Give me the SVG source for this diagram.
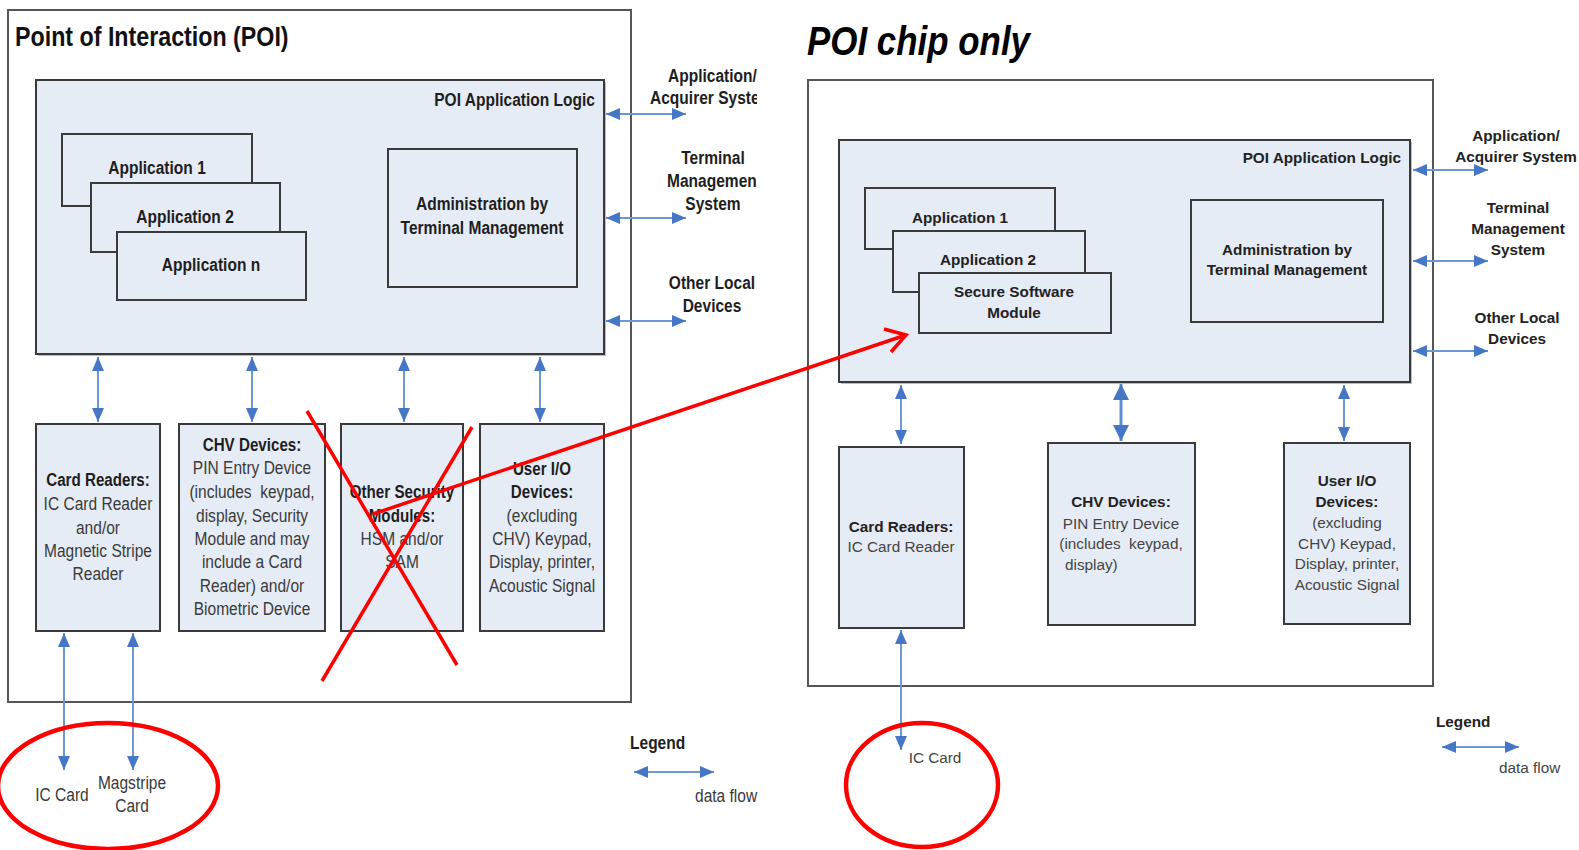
<svg xmlns="http://www.w3.org/2000/svg" width="1579" height="850" viewBox="0 0 1579 850">
  <style>
    .outer { fill: #ffffff; stroke: #555555; stroke-width: 2; }
    .box { fill: #e6ecf6; stroke: #3a3a3a; stroke-width: 2; }
    .shadow { fill: #b9bcc2; }
    .nw { font-family: "Liberation Sans", Arial, sans-serif; font-size: 18.5px; fill: #3a3a3a; }
    .nb { font-family: "Liberation Sans", Arial, sans-serif; font-size: 18.5px; font-weight: bold; fill: #1e1e1e; }
    .rw { font-family: "Liberation Sans", Arial, sans-serif; font-size: 15.3px; fill: #444444; }
    .rb { font-family: "Liberation Sans", Arial, sans-serif; font-size: 15.3px; font-weight: bold; fill: #222222; }
    .c { text-anchor: middle; }
    .e { text-anchor: end; }
    .flow { stroke: #6c98d6; stroke-width: 2; fill: none; marker-start: url(#headS); marker-end: url(#headE); }
    .flowBig { stroke: #5f8ed2; stroke-width: 3; fill: none; marker-start: url(#bigS); marker-end: url(#bigE); }
    .red { stroke: #ff0000; fill: none; stroke-width: 3.5; stroke-linecap: butt; }
  </style>
  <defs>
    <marker id="headE" markerUnits="userSpaceOnUse" viewBox="0 0 14 12" refX="14" refY="6" markerWidth="14" markerHeight="12" orient="auto">
      <path d="M0,0 L14,6 L0,12 Z" fill="#4676c6"/>
    </marker>
    <marker id="headS" markerUnits="userSpaceOnUse" viewBox="0 0 14 12" refX="0" refY="6" markerWidth="14" markerHeight="12" orient="auto">
      <path d="M14,0 L0,6 L14,12 Z" fill="#4676c6"/>
    </marker>
    <marker id="bigE" markerUnits="userSpaceOnUse" viewBox="0 0 16 16" refX="16" refY="8" markerWidth="16" markerHeight="16" orient="auto">
      <path d="M0,0 L16,8 L0,16 Z" fill="#4676c6"/>
    </marker>
    <marker id="bigS" markerUnits="userSpaceOnUse" viewBox="0 0 16 16" refX="0" refY="8" markerWidth="16" markerHeight="16" orient="auto">
      <path d="M16,0 L0,8 L16,16 Z" fill="#4676c6"/>
    </marker>
    <clipPath id="edgeClip" clipPathUnits="userSpaceOnUse">
      <rect x="0" y="0" width="757" height="850"/>
    </clipPath>
  </defs>

  <!-- ===== Left: full POI (condensed lettering via horizontal scale) ===== -->
  <g id="poi-left">
    <rect class="outer" x="8" y="10" width="623" height="692"/>
    <text class="nb" transform="translate(15 46) scale(.83 1)" style="font-size:28px;fill:#111">Point of Interaction (POI)</text>
  </g>

  <g id="app-logic-left">
    <rect class="shadow" x="38" y="82" width="568" height="274"/>
    <rect class="box" x="36" y="80" width="568" height="274"/>
    <text class="nb e" transform="translate(595 106) scale(.84 1)">POI Application Logic</text>
  </g>

  <g id="app1-left">
    <rect class="box" x="62" y="134" width="190" height="72"/>
    <text class="nb c" transform="translate(157 174) scale(.84 1)">Application 1</text>
  </g>
  <g id="app2-left">
    <rect class="box" x="91" y="183" width="189" height="69"/>
    <text class="nb c" transform="translate(185 223) scale(.84 1)">Application 2</text>
  </g>
  <g id="appn-left">
    <rect class="box" x="117" y="232" width="189" height="68"/>
    <text class="nb c" transform="translate(211 271) scale(.84 1)">Application n</text>
  </g>
  <g id="admin-left">
    <rect class="box" x="388" y="149" width="189" height="138"/>
    <text class="nb c" transform="translate(482 210) scale(.84 1)">Administration by</text>
    <text class="nb c" transform="translate(482 234) scale(.84 1)">Terminal Management</text>
  </g>

  <g id="ext-left" clip-path="url(#edgeClip)">
    <text class="nb" transform="translate(668 82) scale(.84 1)">Application/</text>
    <text class="nb" transform="translate(650 104) scale(.84 1)">Acquirer Syste</text>
    <text class="nb c" transform="translate(713 164) scale(.84 1)">Terminal</text>
    <text class="nb" transform="translate(667 187) scale(.84 1)">Managemen</text>
    <text class="nb c" transform="translate(713 210) scale(.84 1)">System</text>
    <text class="nb c" transform="translate(712 289) scale(.84 1)">Other Local</text>
    <text class="nb c" transform="translate(712 312) scale(.84 1)">Devices</text>
  </g>

  <g id="card-readers-left">
    <rect class="box" x="36" y="424" width="124" height="207"/>
    <text class="nb c" transform="translate(98 486) scale(.82 1)">Card Readers:</text>
    <text class="nw c" transform="translate(98 510) scale(.84 1)">IC Card Reader</text>
    <text class="nw c" transform="translate(98 534) scale(.84 1)">and/or</text>
    <text class="nw c" transform="translate(98 557) scale(.84 1)">Magnetic Stripe</text>
    <text class="nw c" transform="translate(98 580) scale(.84 1)">Reader</text>
  </g>
  <g id="chv-left">
    <rect class="box" x="179" y="424" width="146" height="207"/>
    <text class="nb c" transform="translate(252 451) scale(.82 1)">CHV Devices:</text>
    <text class="nw c" transform="translate(252 474) scale(.84 1)">PIN Entry Device</text>
    <text class="nw c" transform="translate(252 498) scale(.84 1)" xml:space="preserve">(includes  keypad,</text>
    <text class="nw c" transform="translate(252 522) scale(.84 1)">display, Security</text>
    <text class="nw c" transform="translate(252 545) scale(.84 1)">Module and may</text>
    <text class="nw c" transform="translate(252 568) scale(.84 1)">include a Card</text>
    <text class="nw c" transform="translate(252 592) scale(.84 1)">Reader) and/or</text>
    <text class="nw c" transform="translate(252 615) scale(.84 1)">Biometric Device</text>
  </g>
  <g id="security-left">
    <rect class="box" x="341" y="424" width="122" height="207"/>
    <text class="nb c" transform="translate(402 498) scale(.82 1)">Other Security</text>
    <text class="nb c" transform="translate(402 522) scale(.82 1)">Modules:</text>
    <text class="nw c" transform="translate(402 545) scale(.84 1)">HSM and/or</text>
    <text class="nw c" transform="translate(402 568) scale(.84 1)">SAM</text>
  </g>
  <g id="userio-left">
    <rect class="box" x="480" y="424" width="124" height="207"/>
    <text class="nb c" transform="translate(542 475) scale(.82 1)">User I/O</text>
    <text class="nb c" transform="translate(542 498) scale(.82 1)">Devices:</text>
    <text class="nw c" transform="translate(542 522) scale(.84 1)">(excluding</text>
    <text class="nw c" transform="translate(542 545) scale(.84 1)">CHV) Keypad,</text>
    <text class="nw c" transform="translate(542 568) scale(.84 1)">Display, printer,</text>
    <text class="nw c" transform="translate(542 592) scale(.84 1)">Acoustic Signal</text>
  </g>

  <g id="cards-left">
    <text class="nw c" transform="translate(62 801) scale(.84 1)">IC Card</text>
    <text class="nw c" transform="translate(132 789) scale(.84 1)">Magstripe</text>
    <text class="nw c" transform="translate(132 812) scale(.84 1)">Card</text>
  </g>

  <g id="legend-left">
    <text class="nb" transform="translate(630 749) scale(.84 1)">Legend</text>
    <line class="flow" x1="634" y1="772" x2="714" y2="772"/>
    <text class="nw" transform="translate(695 802) scale(.84 1)">data flow</text>
  </g>

  <!-- ===== Right: chip-only POI ===== -->
  <g id="poi-right">
    <rect class="outer" x="808" y="80" width="625" height="606"/>
    <text x="807" y="55" textLength="223" lengthAdjust="spacingAndGlyphs" style="font-family:'Liberation Sans',Arial,sans-serif;font-size:40px;font-weight:bold;font-style:italic;fill:#000">POI chip only</text>
  </g>

  <g id="app-logic-right">
    <rect class="shadow" x="841" y="142" width="571" height="242"/>
    <rect class="box" x="839" y="140" width="571" height="242"/>
    <text x="1401" y="163" class="rb e">POI Application Logic</text>
  </g>
  <g id="app1-right">
    <rect class="box" x="865" y="188" width="190" height="61"/>
    <text x="960" y="223" class="rb c">Application 1</text>
  </g>
  <g id="app2-right">
    <rect class="box" x="893" y="231" width="192" height="61"/>
    <text x="988" y="265" class="rb c">Application 2</text>
  </g>
  <g id="ssm-right">
    <rect class="box" x="919" y="273" width="192" height="60"/>
    <text x="1014" y="297" class="rb c">Secure Software</text>
    <text x="1014" y="318" class="rb c">Module</text>
  </g>
  <g id="admin-right">
    <rect class="box" x="1191" y="200" width="192" height="122"/>
    <text x="1287" y="255" class="rb c">Administration by</text>
    <text x="1287" y="275" class="rb c">Terminal Management</text>
  </g>

  <g id="ext-right">
    <text x="1516" y="141" class="rb c">Application/</text>
    <text x="1516" y="162" class="rb c">Acquirer System</text>
    <text x="1518" y="213" class="rb c">Terminal</text>
    <text x="1518" y="234" class="rb c">Management</text>
    <text x="1518" y="255" class="rb c">System</text>
    <text x="1517" y="323" class="rb c">Other Local</text>
    <text x="1517" y="344" class="rb c">Devices</text>
  </g>

  <g id="card-readers-right">
    <rect class="box" x="839" y="447" width="125" height="181"/>
    <text x="901" y="532" class="rb c">Card Readers:</text>
    <text x="901" y="552" class="rw c">IC Card Reader</text>
  </g>
  <g id="chv-right">
    <rect class="box" x="1048" y="443" width="147" height="182"/>
    <text x="1121" y="507" class="rb c">CHV Devices:</text>
    <text x="1121" y="529" class="rw c">PIN Entry Device</text>
    <text x="1121" y="549" class="rw c" xml:space="preserve">(includes  keypad,</text>
    <text x="1065" y="570" class="rw">display)</text>
  </g>
  <g id="userio-right">
    <rect class="box" x="1284" y="443" width="126" height="181"/>
    <text x="1347" y="486" class="rb c">User I/O</text>
    <text x="1347" y="507" class="rb c">Devices:</text>
    <text x="1347" y="528" class="rw c">(excluding</text>
    <text x="1347" y="549" class="rw c">CHV) Keypad,</text>
    <text x="1347" y="569" class="rw c">Display, printer,</text>
    <text x="1347" y="590" class="rw c">Acoustic Signal</text>
  </g>

  <g id="card-right">
    <text x="935" y="763" class="rw c">IC Card</text>
  </g>

  <g id="legend-right">
    <text x="1436" y="727" class="rb">Legend</text>
    <line class="flow" x1="1442" y1="747" x2="1519" y2="747"/>
    <text x="1499" y="773" class="rw">data flow</text>
  </g>

  <!-- ===== Data-flow connectors ===== -->
  <g id="connectors">
    <line class="flow" x1="606" y1="114" x2="686" y2="114"/>
    <line class="flow" x1="606" y1="218" x2="686" y2="218"/>
    <line class="flow" x1="606" y1="321" x2="686" y2="321"/>
    <line class="flow" x1="98" y1="357" x2="98" y2="422"/>
    <line class="flow" x1="252" y1="357" x2="252" y2="422"/>
    <line class="flow" x1="404" y1="357" x2="404" y2="422"/>
    <line class="flow" x1="540" y1="357" x2="540" y2="422"/>
    <line class="flow" x1="64" y1="633" x2="64" y2="770"/>
    <line class="flow" x1="133" y1="633" x2="133" y2="770"/>

    <line class="flow" x1="1413" y1="170" x2="1488" y2="170"/>
    <line class="flow" x1="1413" y1="261" x2="1488" y2="261"/>
    <line class="flow" x1="1413" y1="351" x2="1488" y2="351"/>
    <line class="flow" x1="901" y1="385" x2="901" y2="444"/>
    <line class="flowBig" x1="1121" y1="384" x2="1121" y2="441"/>
    <line class="flow" x1="1344" y1="385" x2="1344" y2="441"/>
    <line class="flow" x1="901" y1="630" x2="901" y2="750"/>
  </g>

  <!-- ===== Red annotations ===== -->
  <g id="annotations">
    <line class="red" x1="307" y1="411" x2="457" y2="665"/>
    <line class="red" x1="472" y1="427" x2="322" y2="681"/>
    <line class="red" x1="373" y1="514" x2="906" y2="335"/>
    <polyline class="red" points="884,329 906,335 891,352"/>
    <ellipse class="red" cx="108" cy="786" rx="110" ry="63" style="stroke-width:4.5"/>
    <ellipse class="red" cx="922" cy="785" rx="76" ry="62" style="stroke-width:4.5"/>
  </g>
</svg>
